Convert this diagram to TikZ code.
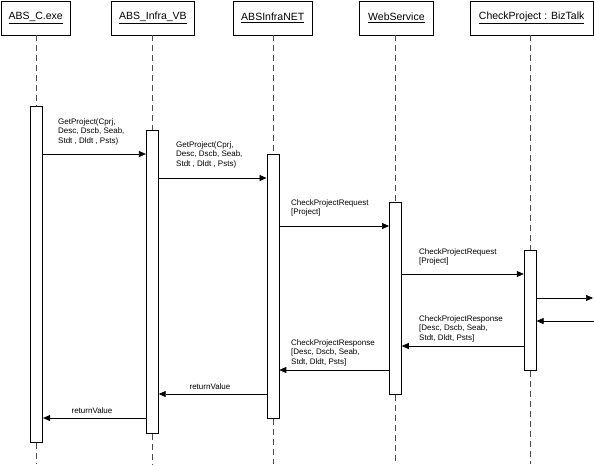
\documentclass[tikz,border=0pt]{standalone}
\usepackage{fontspec}
\setmainfont{Liberation Sans}
\usetikzlibrary{arrows.meta}
\begin{document}
\begin{tikzpicture}[x=1pt,y=-1pt,
  head/.style={draw, line width=0.8pt, minimum height=34pt, inner sep=0pt, fill=white,
    anchor=north west, font=\fontsize{10.5}{12}\selectfont},
  act/.style={draw, line width=0.8pt, fill=white, minimum width=12pt, inner sep=0pt, anchor=north},
  life/.style={draw=black!70, line width=0.8pt, dash pattern=on 6pt off 4pt},
  msg/.style={line width=0.7pt, -{Triangle[length=7pt,width=6pt]}},
  lbl/.style={font=\fontsize{8}{9.6}\selectfont, align=left, anchor=north west, inner sep=0pt},
  rlbl/.style={font=\fontsize{8}{9.6}\selectfont, anchor=base, inner sep=0pt}]

\useasboundingbox (0,0) rectangle (594,464);

% headers
\node[head, minimum width=69.5pt] (h1) at (0.5,0.5) {\underline{ABS\_C.exe}};
\node[head, minimum width=83.6pt] (h2) at (110.7,0.5) {\underline{ABS\_Infra\_VB}};
\node[head, minimum width=79.3pt] (h3) at (232.7,0.5) {\underline{ABSInfraNET}};
\node[head, minimum width=74pt] (h4) at (359,0.5) {\underline{WebService}};
\node[head, minimum width=122.5pt] (h5) at (470,0.5) {\underline{CheckProject : BizTalk}};

% activations
\node[act, minimum height=336pt] (a1) at (36.7,106) {};
\node[act, minimum height=303pt] (a2) at (152.3,130) {};
\node[act, minimum height=264pt] (a3) at (272.9,154) {};
\node[act, minimum height=192pt] (a4) at (395.4,202) {};
\node[act, minimum height=120pt] (a5) at (530.2,250) {};

% lifelines
\foreach \i in {1,...,5}{
  \draw[life] (a\i.north |- h\i.south) -- (a\i.north);
  \draw[life] (a\i.south) -- (a\i.south |- 0,464);
}

% messages
\draw[msg] (a1.east |- 0,154) -- (a2.west |- 0,154);
\draw[msg] (a2.east |- 0,178) -- (a3.west |- 0,178);
\draw[msg] (a3.east |- 0,226) -- (a4.west |- 0,226);
\draw[msg] (a4.east |- 0,274) -- (a5.west |- 0,274);
\coordinate (outend) at (593,298);
\coordinate (instart) at (594,321);
\draw[msg] (a5.east |- outend) -- (outend);
\draw[msg] (instart) -- (a5.east |- instart);
\draw[msg] (a5.west |- 0,346) -- (a4.east |- 0,346);
\draw[msg] (a4.west |- 0,370) -- (a3.east |- 0,370);
\draw[msg] (a3.west |- 0,394) -- (a2.east |- 0,394);
\draw[msg] (a2.west |- 0,418) -- (a1.east |- 0,418);

% labels
\node[lbl] (t1) at (58,118) {GetProject(Cprj,\\Desc, Dscb, Seab,\\Stdt , Dldt , Psts)};
\node[lbl] (t2) at (176,141) {GetProject(Cprj,\\Desc, Dscb, Seab,\\Stdt , Dldt , Psts)};
\node[lbl] (t3) at (291,199) {CheckProjectRequest\\{}[Project]};
\node[lbl] (t4) at (419,248) {CheckProjectRequest\\{}[Project]};
\node[lbl] (t5) at (419,315) {CheckProjectResponse\\{}[Desc, Dscb, Seab,\\Stdt, Dldt, Psts]};
\node[lbl] (t6) at (291,339) {CheckProjectResponse\\{}[Desc, Dscb, Seab,\\Stdt, Dldt, Psts]};
\node[rlbl] (t7) at (210,389) {returnValue};
\node[rlbl] (t8) at (92,413) {returnValue};
\end{tikzpicture}
\end{document}
